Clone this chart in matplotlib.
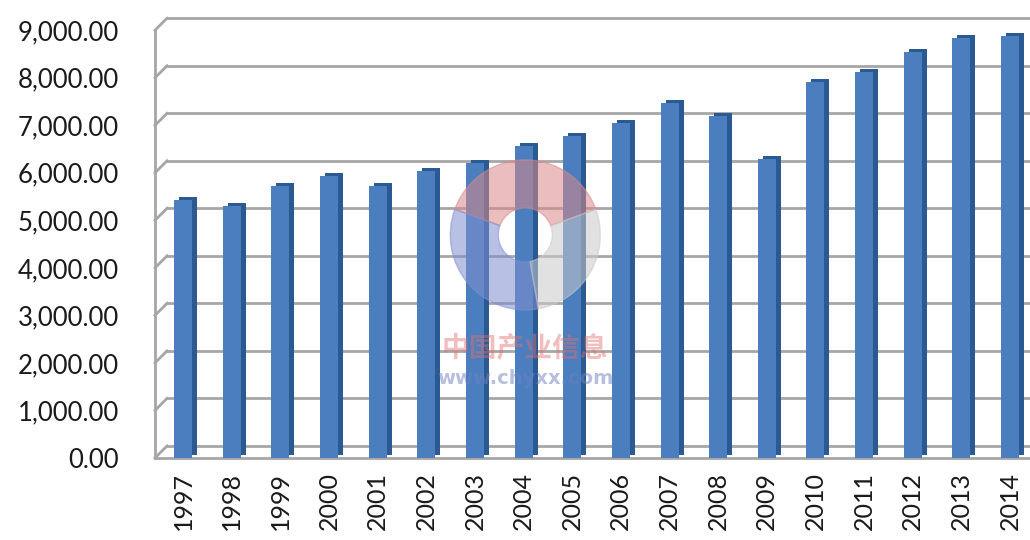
import matplotlib
matplotlib.use('Agg')
import matplotlib.pyplot as plt
import matplotlib.transforms as mtrans
from matplotlib.lines import Line2D
from matplotlib.patches import Wedge
from matplotlib.ticker import FuncFormatter

years = ['1997', '1998', '1999', '2000', '2001', '2002', '2003', '2004', '2005',
         '2006', '2007', '2008', '2009', '2010', '2011', '2012', '2013', '2014']
values = [5420, 5310, 5730, 5940, 5730, 6030, 6200, 6560, 6770,
          7040, 7470, 7190, 6300, 7910, 8120, 8540, 8840, 8880]
yticks = [0, 1000, 2000, 3000, 4000, 5000, 6000, 7000, 8000, 9000]

fig = plt.figure(figsize=(10.3, 5.4), dpi=100)
ax = fig.add_axes([0.1505, 0.152, 0.8495, 0.792])
x = list(range(len(years)))
ax.set_xlim(-0.576, 17.41)
ax.set_ylim(0, 9000)

# back wall grid (shifted up/right for the 3D look)
back = mtrans.offset_copy(ax.transData, fig=fig, x=12, y=12, units='dots')
grid_col = '#a6a6a6'
for v in yticks:
    ax.plot([-0.576, 17.6], [v, v], transform=back, color=grid_col, lw=2, zorder=1, clip_on=False)
# left wall slants and front edges
for v in yticks:
    px, py = ax.transData.transform((-0.576, v))
    fig.lines.append(Line2D([px, px + 12], [py, py + 12], transform=None,
                            color=grid_col, lw=2, zorder=1))
ax.plot([-0.576, -0.576], [0, 9000], color=grid_col, lw=2, zorder=1, clip_on=False)
ax.plot([-0.576, 17.6], [0, 0], color=grid_col, lw=2, zorder=1, clip_on=False)

# bars: darker side face behind the front face
side = mtrans.offset_copy(ax.transData, fig=fig, x=5, y=3, units='dots')
ax.bar(x, values, width=0.37, color='#2b5a92', transform=side, zorder=3)
ax.bar(x, values, width=0.37, color='#4a7ebf', zorder=4)

ax.set_yticks(yticks)
ax.yaxis.set_major_formatter(FuncFormatter(lambda v, p: f'{v:,.2f}'))
ax.set_xticks(x)
ax.set_xticklabels(years, rotation=90)
ax.tick_params(axis='y', length=0, pad=26, labelsize=18.5, labelcolor='#1a1a1a')
ax.tick_params(axis='x', length=0, pad=10, labelsize=18, labelcolor='#1a1a1a')
for lab in ax.get_xticklabels() + ax.get_yticklabels():
    lab.set_fontfamily('Lato')
for s in ax.spines.values():
    s.set_visible(False)
ax.patch.set_visible(False)

# watermark
cx, cy = 0.51, 0.565
for t1, t2, c in [(20, 160, '#d9898a'), (160, 280, '#7f8fcf'), (280, 380, '#c9c9c9')]:
    fig.patches.append(Wedge((cx * 1030, cy * 540), 75, t1, t2, width=48,
                             transform=None, color=c, alpha=0.55, zorder=6))
fig.text(0.51, 0.355, '中国产业信息', family=['Noto Sans CJK SC', 'DejaVu Sans'],
         fontsize=20, color='#e07070', alpha=0.45, ha='center', va='center', weight='bold')
fig.text(0.51, 0.30, 'www.chyxx.com', fontsize=14, color='#7080c0', alpha=0.5,
         ha='center', va='center', weight='bold')

fig.savefig('out.png', dpi=100)
